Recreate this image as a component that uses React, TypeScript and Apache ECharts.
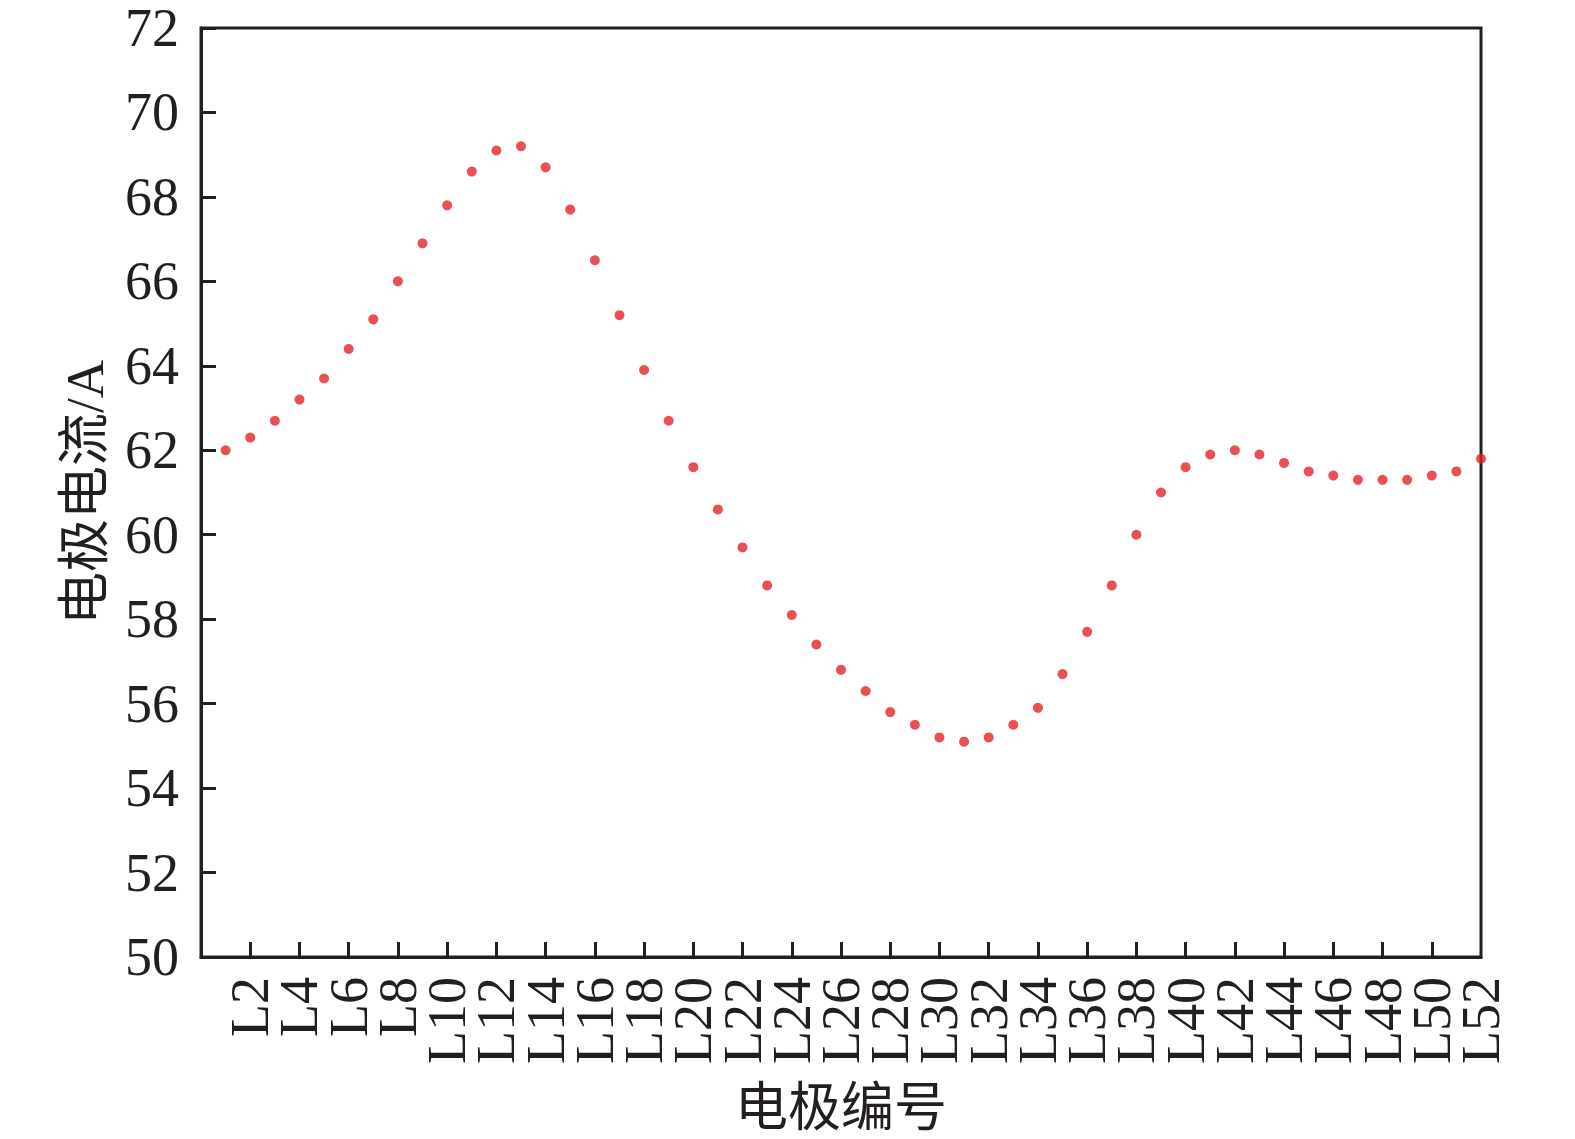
import React, { useEffect, useRef } from "react";
import * as echarts from "echarts";

const electrodeLabels: string[] = [
  "L0", "L1", "L2", "L3", "L4", "L5", "L6", "L7", "L8", "L9", "L10", "L11", "L12", "L13", "L14",
  "L15", "L16", "L17", "L18", "L19", "L20", "L21", "L22", "L23", "L24", "L25", "L26", "L27", "L28",
  "L29", "L30", "L31", "L32", "L33", "L34", "L35", "L36", "L37", "L38", "L39", "L40", "L41", "L42",
  "L43", "L44", "L45", "L46", "L47", "L48", "L49", "L50", "L51", "L52",
];
const measuredElectrodes: string[] = electrodeLabels.slice(1);
const currentValues: number[] = [
  62.0, 62.3, 62.7, 63.2, 63.7, 64.4, 65.1, 66.0, 66.9, 67.8, 68.6, 69.1, 69.2, 68.7, 67.7, 66.5,
  65.2, 63.9, 62.7, 61.6, 60.6, 59.7, 58.8, 58.1, 57.4, 56.8, 56.3, 55.8, 55.5, 55.2, 55.1, 55.2,
  55.5, 55.9, 56.7, 57.7, 58.8, 60.0, 61.0, 61.6, 61.9, 62.0, 61.9, 61.7, 61.5, 61.4, 61.3, 61.3,
  61.3, 61.4, 61.5, 61.8,
];
const xAxisTitle = "电极编号";
const yAxisTitle = "电极电流/A";

export default function App() {
  const ref = useRef<HTMLDivElement>(null);
  useEffect(() => {
    if (!ref.current) return;
    const chart = echarts.init(ref.current, null, { renderer: "svg" });
    const ink = "#231f20";
    const font = "'Liberation Serif', 'Times New Roman', 'Noto Sans CJK SC', serif";
    const lastIndex = electrodeLabels.length - 1;
    const labelStyle = {
      rotate: 90,
      margin: 20,
      fontSize: 54,
      lineHeight: 36,
      color: ink,
      fontFamily: font,
      hideOverlap: false,
    };
    chart.setOption({
      animation: false,
      backgroundColor: "#ffffff",
      grid: {
        left: 201,
        right: 94,
        top: 28,
        bottom: 182,
        show: true,
        borderColor: ink,
        borderWidth: 3,
        containLabel: false,
      },
      xAxis: [
        {
          type: "category",
          data: electrodeLabels,
          boundaryGap: false,
          position: "bottom",
          name: xAxisTitle,
          nameLocation: "middle",
          nameGap: 124,
          nameTextStyle: { fontSize: 53, color: ink, fontFamily: font },
          axisLine: { show: true, lineStyle: { color: ink, width: 3 } },
          axisTick: {
            show: true,
            inside: true,
            length: 15,
            interval: 1,
            lineStyle: { color: ink, width: 3 },
          },
          splitLine: { show: false },
          axisLabel: {
            ...labelStyle,
            interval: 1,
            formatter: (v: string, i: number) => (i === 0 ? "" : v),
          },
        },
        {
          type: "category",
          data: electrodeLabels,
          boundaryGap: false,
          position: "bottom",
          offset: 0,
          axisLine: { show: false },
          axisTick: { show: false },
          splitLine: { show: false },
          axisLabel: {
            ...labelStyle,
            interval: (i: number) => i === lastIndex,
          },
        },
      ],
      yAxis: {
        type: "value",
        min: 50,
        max: 72,
        interval: 2,
        name: yAxisTitle,
        nameLocation: "middle",
        nameGap: 90,
        nameRotate: 90,
        nameTextStyle: { fontSize: 53, color: ink, fontFamily: font },
        axisLine: { show: true, lineStyle: { color: ink, width: 3 } },
        axisTick: { show: true, inside: true, length: 15, lineStyle: { color: ink, width: 3 } },
        splitLine: { show: false },
        axisLabel: { margin: 22, fontSize: 54, color: ink, fontFamily: font },
      },
      series: [
        {
          type: "scatter",
          xAxisIndex: 0,
          symbol: "circle",
          symbolSize: 10,
          itemStyle: { color: "#e52329" },
          data: measuredElectrodes.map((name, i) => [name, currentValues[i]]),
          clip: false,
        },
      ],
    });
    return () => chart.dispose();
  }, []);
  return (
    <div
      ref={ref}
      style={{ position: "absolute", left: 0, top: 0, width: 1575, height: 1139 }}
    />
  );
}
